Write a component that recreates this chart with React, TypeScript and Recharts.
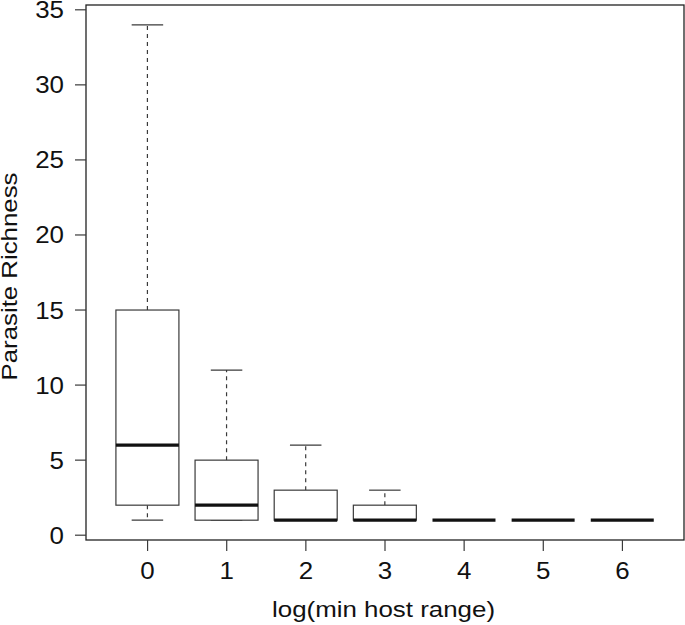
import React from 'react';
import * as R from 'recharts';
import { ComposedChart, Bar, XAxis, YAxis } from 'recharts';

const categories = ['0', '1', '2', '3', '4', '5', '6'];
const mins = [1, 1, 1, 1, 1, 1, 1];
const q1s = [2, 1, 1, 1, 1, 1, 1];
const medians = [6, 2, 1, 1, 1, 1, 1];
const q3s = [15, 5, 3, 2, 1, 1, 1];
const maxs = [34, 11, 6, 3, 1, 1, 1];
const yTicks = [0, 5, 10, 15, 20, 25, 30, 35];

const data = categories.map((cat, i) => ({
  cat,
  min: mins[i],
  q1: q1s[i],
  median: medians[i],
  q3: q3s[i],
  max: maxs[i],
  range: [mins[i], maxs[i]],
}));

const FONT = '"Liberation Sans", Arial, Helvetica, sans-serif';
const TICK_FS = 24;
const TITLE_FS = 22.5;
const SX = 1.08;
const LINE = '#3a3a3a';
const TEXT = '#111';

const BoxShape = (props: any) => {
  const { x, y, width, height } = props;
  const p = props.payload ?? props;
  const top = Math.min(y, y + height);
  const bottom = Math.max(y, y + height);
  const span = p.max - p.min;
  const py = (v: number) => (span === 0 ? top : top + ((bottom - top) * (p.max - v)) / span);
  const cx = x + width / 2;
  const cap = width / 4;
  const yMin = py(p.min), yQ1 = py(p.q1), yMed = py(p.median), yQ3 = py(p.q3), yMax = py(p.max);
  return (
    <g>
      <line x1={cx} x2={cx} y1={yQ3} y2={yMax} stroke={LINE} strokeWidth={1.2} strokeDasharray="4 4" />
      <line x1={cx} x2={cx} y1={yQ1} y2={yMin} stroke={LINE} strokeWidth={1.2} strokeDasharray="4 4" />
      <line x1={cx - cap} x2={cx + cap} y1={yMax} y2={yMax} stroke={LINE} strokeWidth={1.2} />
      <line x1={cx - cap} x2={cx + cap} y1={yMin} y2={yMin} stroke={LINE} strokeWidth={1.2} />
      <rect x={x} y={yQ3} width={width} height={Math.max(0, yQ1 - yQ3)} fill="#fff" stroke={LINE} strokeWidth={1.2} />
      <line x1={x} x2={x + width} y1={yMed} y2={yMed} stroke="#111" strokeWidth={3.3} />
    </g>
  );
};

const Frame = () => {
  const usePlotArea = (R as any).usePlotArea;
  const useOffset = (R as any).useOffset;
  const useW = (R as any).useChartWidth;
  const useH = (R as any).useChartHeight;
  let area: any = usePlotArea ? usePlotArea() : null;
  if (!area && useOffset && useW && useH) {
    const o = useOffset();
    const w = useW();
    const h = useH();
    if (o && w && h) area = { x: o.left, y: o.top, width: w - o.left - o.right, height: h - o.top - o.bottom };
  }
  if (!area) return null;
  return (
    <rect x={area.x} y={area.y} width={area.width} height={area.height} fill="none" stroke="#222" strokeWidth={1.3} />
  );
};

const XTick = (props: any) => {
  const { x, y, payload } = props;
  return (
    <text
      x={0}
      y={0}
      transform={`translate(${x},${y}) scale(${SX},1)`}
      textAnchor="middle"
      dy="0.71em"
      fontSize={TICK_FS}
      fontFamily={FONT}
      fill={TEXT}
    >
      {payload.value}
    </text>
  );
};

const YTick = (props: any) => {
  const { x, y, payload } = props;
  return (
    <text
      x={0}
      y={0}
      transform={`translate(${x},${y}) scale(${SX},1)`}
      textAnchor="end"
      dy="0.355em"
      fontSize={TICK_FS}
      fontFamily={FONT}
      fill={TEXT}
    >
      {payload.value}
    </text>
  );
};

const XTitle = (props: any) => {
  const vb = props.viewBox;
  const cx = vb.x + vb.width / 2 - 1.5;
  return (
    <text
      x={cx}
      y={vb.y + 77}
      textAnchor="middle"
      fontSize={TITLE_FS}
      fontFamily={FONT}
      fill={TEXT}
      textLength={223}
      lengthAdjust="spacingAndGlyphs"
    >
      log(min host range)
    </text>
  );
};

const YTitle = (props: any) => {
  const vb = props.viewBox;
  const cy = vb.y + vb.height / 2 + 4;
  const bx = vb.x + 16.7;
  return (
    <text
      x={0}
      y={0}
      transform={`translate(${bx},${cy}) rotate(-90)`}
      textAnchor="middle"
      fontSize={TITLE_FS}
      fontFamily={FONT}
      fill={TEXT}
      textLength={208}
      lengthAdjust="spacingAndGlyphs"
    >
      Parasite Richness
    </text>
  );
};

export default function App() {
  return (
    <div style={{ position: 'absolute', left: 0, top: 0 }}>
      <ComposedChart
        width={685}
        height={625}
        data={data}
        margin={{ top: 5, right: 1, bottom: 0, left: 0 }}
        barCategoryGap="10%"
      >
        <XAxis
          dataKey="cat"
          type="category"
          height={85}
          padding={{ left: 22, right: 22 }}
          tickSize={11}
          tickMargin={11.3}
          tick={<XTick />}
          tickLine={{ stroke: LINE, strokeWidth: 1.2 }}
          axisLine={false}
          interval={0}
          label={<XTitle />}
        />
        <YAxis
          type="number"
          domain={[-0.32, 35.32]}
          ticks={yTicks}
          allowDataOverflow
          width={86}
          tickSize={11}
          tickMargin={11}
          tick={<YTick />}
          tickLine={{ stroke: LINE, strokeWidth: 1.2 }}
          axisLine={false}
          interval={0}
          label={<YTitle />}
        />
        <Bar dataKey="range" shape={<BoxShape />} isAnimationActive={false} />
        <Frame />
      </ComposedChart>
    </div>
  );
}
